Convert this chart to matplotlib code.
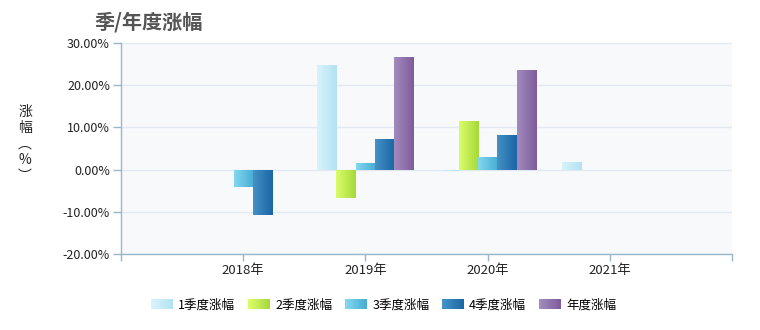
import numpy as np
import matplotlib
matplotlib.use("Agg")
import matplotlib.pyplot as plt
from matplotlib.colors import LinearSegmentedColormap
from matplotlib.patches import Patch, Rectangle
from matplotlib.legend_handler import HandlerBase

plt.rcParams['font.family'] = ['Noto Sans CJK SC', 'DejaVu Sans']

categories = ["2018年", "2019年", "2020年", "2021年"]
series_names = ["1季度涨幅", "2季度涨幅", "3季度涨幅", "4季度涨幅", "年度涨幅"]
q1 = [np.nan, 24.9, -0.4, 1.9]
q2 = [np.nan, -6.7, 11.5, np.nan]
q3 = [-4.2, 1.5, 3.1, np.nan]
q4 = [-10.7, 7.3, 8.2, np.nan]
annual = [np.nan, 26.6, 23.7, np.nan]
yticks = [-20, -10, 0, 10, 20, 30]

series = [q1, q2, q3, q4, annual]
grad_colors = [
    ("#d8f3fb", "#b3e2f3"),
    ("#dafc6c", "#a5da38"),
    ("#82d8f0", "#48acd4"),
    ("#4590c4", "#1a66a6"),
    ("#a28bbd", "#7e5c9c"),
]


class GradientHandler(HandlerBase):
    """Legend key drawn as a horizontal gradient strip."""

    def __init__(self, c0, c1, steps=12):
        super().__init__()
        self.cmap = LinearSegmentedColormap.from_list("k", [c0, c1])
        self.steps = steps

    def create_artists(self, legend, orig_handle, xdescent, ydescent,
                       width, height, fontsize, trans):
        arts = []
        sw = width / self.steps
        for k in range(self.steps):
            r = Rectangle((-xdescent + k * sw, -ydescent), sw * 1.05, height,
                          facecolor=self.cmap(k / (self.steps - 1)),
                          edgecolor="none", transform=trans)
            arts.append(r)
        return arts


fig = plt.figure(figsize=(7.6, 3.3), dpi=100)
ax = fig.add_axes([0.1592, 0.2303, 0.804, 0.6394])
ax.set_facecolor("#f7f9fb")

x = np.arange(1, len(categories) + 1)
n = len(series)
w = 0.158
grad = np.linspace(0, 1, 64).reshape(1, -1)

for i, (vals, (c0, c1)) in enumerate(zip(series, grad_colors)):
    offs = (i - (n - 1) / 2) * w
    bars = ax.bar(x + offs, np.nan_to_num(vals), width=w, color="none",
                  edgecolor="none", zorder=3)
    cmap = LinearSegmentedColormap.from_list(f"g{i}", [c0, c1])
    for b, v in zip(bars, vals):
        if np.isnan(v):
            continue
        x0 = b.get_x()
        y0 = min(0, v)
        im = ax.imshow(grad, cmap=cmap, aspect="auto", zorder=3,
                       extent=[x0, x0 + w, y0, y0 + abs(v)],
                       interpolation="bilinear")
        im.set_clip_path(b)

ax.set_xlim(0, 5)
ax.set_ylim(-20, 30)
ax.set_yticks(yticks)
ax.set_yticklabels([f"{t:.2f}%" for t in yticks])
ax.xaxis.remove_overlapping_locs = False
ax.set_xticks(x)
ax.set_xticklabels(categories)
ax.set_xticks(np.arange(0, 6), minor=True)
ax.tick_params(axis="x", which="major", length=0, pad=7, labelsize=9.5,
               labelcolor="#222222")
ax.tick_params(axis="x", which="minor", length=5, color="#9ab6cb", width=1)
ax.tick_params(axis="y", length=6, color="#9ab6cb", width=1, labelsize=9,
               labelcolor="#222222", pad=2)

ax.grid(axis="y", color="#e2e9f1", linewidth=1, zorder=0)
ax.set_axisbelow(True)
for s in ["top", "right"]:
    ax.spines[s].set_visible(False)
for s in ["left", "bottom"]:
    ax.spines[s].set_color("#9ab6cb")
    ax.spines[s].set_linewidth(1)

fig.text(94 / 760, 1 - 22 / 330, "季/年度涨幅", fontsize=14.5, color="#555555",
         fontweight="bold", ha="left", va="center")
fig.text(25 / 760, 1 - 144 / 330, "涨\n幅\n︵\n%\n︶", fontsize=10, color="#222222",
         ha="center", va="center", linespacing=1.2)

handles = [Patch(facecolor=c1, edgecolor="none") for _, c1 in grad_colors]
handler_map = {h: GradientHandler(c0, c1) for h, (c0, c1) in zip(handles, grad_colors)}
leg = fig.legend(handles, series_names, loc="center", ncol=5,
                 bbox_to_anchor=(0.505, 1 - 305 / 330), frameon=False,
                 fontsize=9, handlelength=1.75, handleheight=0.9,
                 handletextpad=0.4, columnspacing=1.05, handler_map=handler_map)

fig.savefig("out.png", dpi=100, facecolor="white")
